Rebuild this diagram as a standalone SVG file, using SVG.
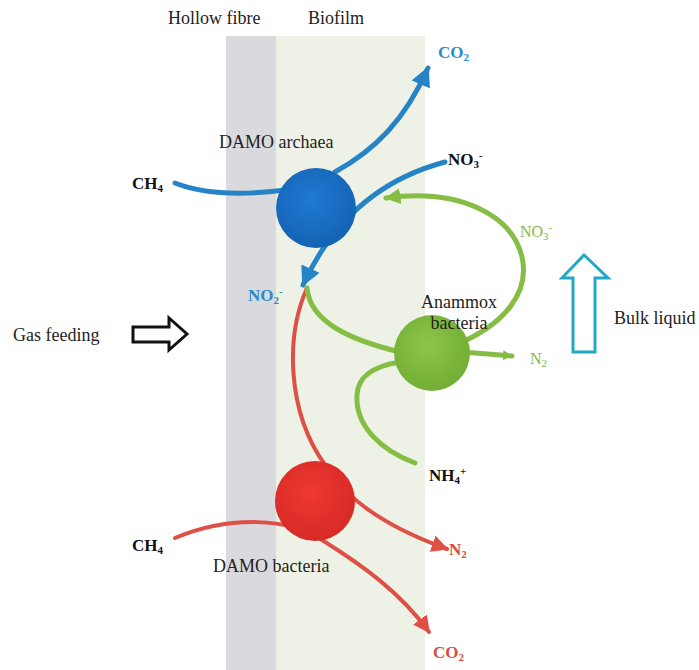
<svg xmlns="http://www.w3.org/2000/svg" width="699" height="670" viewBox="0 0 699 670">
<style>
.lbl{font-size:18px;fill:#222;}
.chem{font-size:17px;font-weight:bold;}
.sub{font-size:11px;}
.blue{stroke:#2684c6;stroke-width:5;fill:none;stroke-linecap:round;}
.green{stroke:#86bd45;stroke-width:5;fill:none;stroke-linecap:round;}
.red{stroke:#de4f45;stroke-width:4;fill:none;stroke-linecap:round;}
</style>
<defs>
<marker id="mb" viewBox="0 0 10 10" refX="9" refY="5" markerWidth="20" markerHeight="24" markerUnits="userSpaceOnUse" orient="auto"><path d="M0,0 L10,5 L0,10 z" fill="#2684c6"/></marker>
<marker id="mg" viewBox="0 0 10 10" refX="9" refY="5" markerWidth="16" markerHeight="20" markerUnits="userSpaceOnUse" orient="auto"><path d="M0,0 L10,5 L0,10 z" fill="#86bd45"/></marker>
<marker id="mgs" viewBox="0 0 10 10" refX="9" refY="5" markerWidth="10" markerHeight="11" markerUnits="userSpaceOnUse" orient="auto"><path d="M0,0 L10,5 L0,10 z" fill="#86bd45"/></marker>
<marker id="mr" viewBox="0 0 10 10" refX="9" refY="5" markerWidth="17" markerHeight="20" markerUnits="userSpaceOnUse" orient="auto"><path d="M0,0 L10,5 L0,10 z" fill="#de4f45"/></marker>
<radialGradient id="gb" cx="0.45" cy="0.4" r="0.6"><stop offset="0" stop-color="#1f7ad2"/><stop offset="1" stop-color="#1463b4"/></radialGradient>
<radialGradient id="gg" cx="0.45" cy="0.4" r="0.6"><stop offset="0" stop-color="#8cc649"/><stop offset="1" stop-color="#72ad35"/></radialGradient>
<radialGradient id="gr" cx="0.45" cy="0.4" r="0.6"><stop offset="0" stop-color="#ee3833"/><stop offset="1" stop-color="#d82a25"/></radialGradient>
</defs>
<rect x="0" y="0" width="699" height="670" fill="#ffffff"/>
<g id="bands">
<rect x="226" y="36" width="50" height="634" fill="#d9d9de"/>
<rect x="276" y="36" width="149" height="634" fill="#eef2e6"/>
</g>
<g font-family="'Liberation Serif', 'Times New Roman', serif">
<g id="headers">
<text class="lbl" x="168" y="24">Hollow fibre</text>
<text class="lbl" x="308" y="24">Biofilm</text>
</g>
<g id="connectors">
<path class="blue" d="M175,183 C205,195 245,195 285,190"/>
<path class="blue" d="M335,172 C375,150 405,120 428,68" marker-end="url(#mb)"/>
<path class="blue" d="M445,162 C385,178 335,215 303,285" marker-end="url(#mb)"/>
<path class="red" d="M307,288 C286,335 286,410 325,465 C350,505 395,530 447,549" marker-end="url(#mr)"/>
<path class="red" d="M175,538 C230,515 290,518 322,540 C362,565 400,592 429,632" marker-end="url(#mr)"/>
<path class="green" d="M455,345 C505,325 530,292 522,257 C512,215 460,188 386,198" marker-end="url(#mg)"/>
<path class="green" d="M307,288 C310,322 350,340 400,352"/>
<path class="green" d="M462,352 L512,356" marker-end="url(#mgs)"/>
<path class="green" d="M415,463 C380,450 355,425 357,395 C358,375 375,366 400,362"/>
</g>
<g id="damo-archaea">
<circle cx="316" cy="208" r="40" fill="url(#gb)"/>
<text class="lbl" x="219" y="148">DAMO archaea</text>
</g>
<g id="anammox">
<circle cx="432" cy="353" r="38" fill="url(#gg)"/>
<text class="lbl" x="459" y="308" text-anchor="middle">Anammox</text>
<text class="lbl" x="459" y="329" text-anchor="middle">bacteria</text>
</g>
<g id="damo-bacteria">
<circle cx="315" cy="501" r="40" fill="url(#gr)"/>
<text class="lbl" x="213" y="572">DAMO bacteria</text>
</g>
<g id="labels">
<text class="chem" x="132" y="189" fill="#111">CH<tspan class="sub" dy="3">4</tspan></text>
<text class="chem" x="438" y="58" fill="#2a8bcc">CO<tspan class="sub" dy="3">2</tspan></text>
<text class="chem" x="448" y="165" fill="#111">NO<tspan class="sub" dy="3">3</tspan><tspan class="sub" dy="-9">-</tspan></text>
<text class="chem" x="248" y="301" fill="#2a8bcc">NO<tspan class="sub" dy="3">2</tspan><tspan class="sub" dy="-9">-</tspan></text>
<text x="520" y="237" font-size="16" fill="#86b845">NO<tspan class="sub" dy="3">3</tspan><tspan class="sub" dy="-9">-</tspan></text>
<text x="530" y="364" font-size="16" fill="#86b845">N<tspan class="sub" dy="3">2</tspan></text>
<text class="chem" x="429" y="481" fill="#111">NH<tspan class="sub" dy="3">4</tspan><tspan class="sub" dy="-9">+</tspan></text>
<text class="chem" x="132" y="551" fill="#111">CH<tspan class="sub" dy="3">4</tspan></text>
<text class="chem" x="449" y="555" fill="#d94a42">N<tspan class="sub" dy="3">2</tspan></text>
<text class="chem" x="433" y="658" fill="#d94a42">CO<tspan class="sub" dy="3">2</tspan></text>
</g>
<g id="gas-feeding">
<text class="lbl" x="13" y="341">Gas feeding</text>
<polygon points="133,327 169,327 169,318 187,334 169,350 169,342 133,342" fill="#fff" stroke="#111" stroke-width="3" stroke-linejoin="miter"/>
</g>
<g id="bulk-liquid">
<polygon points="584,255 608,278 595,278 595,352 573,352 573,278 562,278" fill="#fff" stroke="#22a9c5" stroke-width="3"/>
<text class="lbl" x="614" y="324">Bulk liquid</text>
</g>
</g>
</svg>
